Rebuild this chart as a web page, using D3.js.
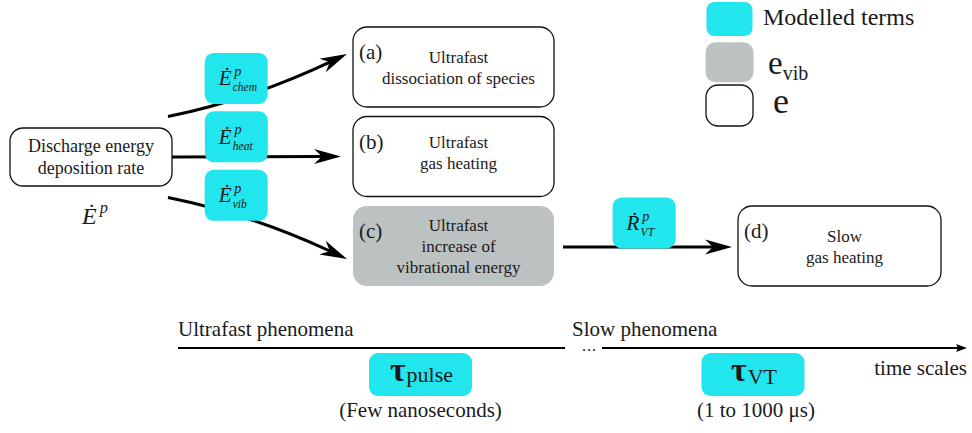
<!DOCTYPE html>
<html><head><meta charset="utf-8">
<script src="https://cdn.jsdelivr.net/npm/d3@7"></script>
<style>
body{margin:0;background:#fff}
svg{display:block}
text{font-family:"Liberation Serif","Times New Roman",serif;fill:#1a1a1a}
</style>
</head><body><svg id="c" width="972" height="433"></svg>
<script>
// ---------------- data ----------------
const sourceLines = ["Discharge energy", "deposition rate"];
const sourceSymbol = ["Ė", "p"];
const processIds = ["(a)", "(b)", "(c)", "(d)"];
const processLines = [
  ["Ultrafast", "dissociation of species"],
  ["Ultrafast", "gas heating"],
  ["Ultrafast", "increase of", "vibrational energy"],
  ["Slow", "gas heating"]
];
const processKinds = ["e", "e", "evib", "e"];
const processRows = [0, 1, 2, 2];
const processCols = [1, 1, 1, 2];
const termBase = ["Ė", "Ė", "Ė", "Ṙ"];
const termSup = ["p", "p", "p", "p"];
const termSub = ["chem", "heat", "vib", "VT"];
const legendLabels = ["Modelled terms", "e", "e"];
const legendSubs = ["", "vib", ""];
const legendKinds = ["term", "evib", "e"];
const phaseLabels = ["Ultrafast phenomena", "Slow phenomena"];
const axisLabel = "time scales";
const tauSymbol = "τ";
const tauSubs = ["pulse", "VT"];
const tauNotes = ["(Few nanoseconds)", "(1 to 1000 μs)"];

// ---------------- styles / layout ----------------
const CYAN = "#22e6ee", GREY = "#bcc1c1";
const fillOf = {term: CYAN, evib: GREY, e: "#fff"};
const strokeOf = {term: "none", evib: "none", e: "#111"};

const svg = d3.select("#c");
const colX = d3.scaleOrdinal().domain([0, 1, 2]).range([91, 453.5, 839.5]);
const colW = [162, 201, 203];
const rowY = d3.scaleLinear().domain([0, 2]).range([67, 246]);
const srcY = rowY(1) + 0.5;

const gArrows = svg.append("g");
const gBoxes = svg.append("g");
const gTerms = svg.append("g");

// source box
const srcW = colW[0], srcH = 58, srcX = colX(0);
gBoxes.append("rect").attr("x", srcX - srcW / 2).attr("y", srcY - srcH / 2)
  .attr("width", srcW).attr("height", srcH).attr("rx", 13)
  .attr("fill", "#fff").attr("stroke", "#111").attr("stroke-width", 1.3);
gBoxes.selectAll("text.src").data(sourceLines).join("text").attr("class", "src")
  .attr("x", srcX).attr("y", (d, i) => srcY + (i - (sourceLines.length - 1) / 2) * 22 + 6)
  .attr("text-anchor", "middle").attr("font-size", 18).text(d => d);

// dotted symbol helper (one text element: base with dot above, superscript, subscript)
function dotted(g, x, y, base, sup, sub, s, subX) {
  const t = g.append("text").attr("x", x).attr("y", y).attr("font-style", "italic");
  t.append("tspan").attr("font-size", s).text(base);
  t.append("tspan").attr("font-size", s * 0.68).attr("x", x + 0.74 * s).attr("dy", -0.45 * s).text(sup);
  if (sub) t.append("tspan").attr("font-size", s * 0.55).attr("x", subX).attr("dy", 0.72 * s).text(sub);
}
dotted(gBoxes, 82, 224, sourceSymbol[0], sourceSymbol[1], null, 24);

// process boxes
const procs = processIds.map((id, i) => {
  const cx = colX(processCols[i]), cy = rowY(processRows[i]), w = colW[processCols[i]], h = 80;
  return {id, i, cx, cy, w, h, x0: cx - w / 2, x1: cx + w / 2, lines: processLines[i], kind: processKinds[i]};
});
const pg = gBoxes.selectAll("g.proc").data(procs).join("g").attr("class", "proc");
pg.append("rect").attr("x", d => d.x0).attr("y", d => d.cy - d.h / 2)
  .attr("width", d => d.w).attr("height", d => d.h).attr("rx", 14)
  .attr("fill", d => fillOf[d.kind]).attr("stroke", d => strokeOf[d.kind]).attr("stroke-width", 1.3);
pg.append("text").attr("x", d => d.x0 + 6).attr("y", d => d.cy - 8)
  .attr("font-size", 21).text(d => d.id);
pg.each(function (d) {
  d3.select(this).selectAll("text.l").data(d.lines).join("text").attr("class", "l")
    .attr("x", d.cx + 5).attr("y", (t, j) => d.cy + (j - (d.lines.length - 1) / 2) * 21 + 6 - (d.i === 1 ? 4 : 0))
    .attr("text-anchor", "middle").attr("font-size", 17).text(t => t);
});

// arrows
function head(g, tip, ang, L, W, N) {
  const pts = [[0, 0], [-L, -W / 2], [-L + N, 0], [-L, W / 2]];
  g.append("path").attr("d", "M" + pts.map(p => p.join(",")).join("L") + "Z")
    .attr("transform", `translate(${tip[0]},${tip[1]}) rotate(${ang * 180 / Math.PI})`)
    .attr("fill", "#000");
}
const arrows = [];
[0, 1, 2].forEach(r => {
  const p = procs[r];
  const side = r - 1;
  const s = [srcX + srcW / 2 - (side ? 4 : 0), srcY + side * 40.5];
  const e = [p.x0 - (side ? 6 : 12), p.cy + side * 13];
  const c = [s[0] + 0.46 * (e[0] - s[0]), s[1] + 0.27 * (e[1] - s[1])];
  arrows.push({s, c, e, t: 0.4, off: -20});
});
arrows.push({s: [procs[2].x1 + 9, rowY(2) + 1], c: null, e: [procs[3].x0 - 6, rowY(2) + 1], t: 0.48, off: -24});

const L = 27, W = 15, N = 8;
arrows.forEach(a => {
  const c = a.c || [(a.s[0] + a.e[0]) / 2, (a.s[1] + a.e[1]) / 2];
  a.c = c;
  const ang = Math.atan2(a.e[1] - c[1], a.e[0] - c[0]);
  const end = [a.e[0] - (L - N) * Math.cos(ang), a.e[1] - (L - N) * Math.sin(ang)];
  const path = d3.path();
  path.moveTo(a.s[0], a.s[1]);
  path.quadraticCurveTo(c[0], c[1], end[0], end[1]);
  gArrows.append("path").attr("d", path.toString()).attr("fill", "none")
    .attr("stroke", "#000").attr("stroke-width", 3);
  head(gArrows, a.e, ang, L, W, N);
});

// modelled terms on arrows
arrows.forEach((a, i) => {
  const t = a.t, u = 1 - t;
  const px = u * u * a.s[0] + 2 * t * u * a.c[0] + t * t * a.e[0];
  const py = u * u * a.s[1] + 2 * t * u * a.c[1] + t * t * a.e[1];
  const cx = px, cy = py + a.off, w = 63, h = 51;
  gTerms.append("rect").attr("x", cx - w / 2).attr("y", cy - h / 2).attr("width", w).attr("height", h)
    .attr("rx", 9).attr("fill", CYAN);
  dotted(gTerms, cx - 17.5, cy + 7, termBase[i], termSup[i], termSub[i], 21, cx - 3.5);
});

// legend
const lg = svg.append("g");
const legY = d3.scalePoint().domain(legendKinds).range([19, 105.5]);
const legSize = {term: [46, 34, 8], evib: [48, 40, 10], e: [47, 41, 12]};
legendKinds.forEach((k, i) => {
  const [w, h, r] = legSize[k];
  lg.append("rect").attr("x", 729.5 - w / 2).attr("y", legY(k) - h / 2).attr("width", w).attr("height", h)
    .attr("rx", r).attr("fill", fillOf[k]).attr("stroke", strokeOf[k]).attr("stroke-width", 1.3);
  const t = lg.append("text");
  if (k === "term") {
    t.attr("x", 763).attr("y", legY(k) + 6).attr("font-size", 24).text(legendLabels[i]);
  } else {
    t.attr("x", k === "evib" ? 768 : 773).attr("y", legY(k) + (k === "evib" ? 12 : 7.5))
      .attr("font-size", k === "evib" ? 33 : 36);
    t.append("tspan").text(legendLabels[i]);
    if (legendSubs[i]) t.append("tspan").attr("font-size", 20).attr("dy", 6).text(legendSubs[i]);
  }
});

// timeline
const tl = svg.append("g");
const tx = d3.scaleLinear().domain([0, 1]).range([178, 967]);
const ty = 348;
tl.append("line").attr("x1", tx(0)).attr("x2", 565).attr("y1", ty).attr("y2", ty)
  .attr("stroke", "#000").attr("stroke-width", 2);
tl.append("text").attr("x", 590).attr("y", ty + 3).attr("text-anchor", "middle")
  .attr("font-size", 12).attr("font-weight", "bold").attr("letter-spacing", 2).text("...");
tl.append("line").attr("x1", 602).attr("x2", tx(1) - 6).attr("y1", ty).attr("y2", ty)
  .attr("stroke", "#000").attr("stroke-width", 2);
head(tl, [tx(1), ty], 0, 11, 8, 2);
tl.selectAll("text.ph").data(phaseLabels).join("text").attr("class", "ph")
  .attr("x", (d, i) => i ? 572 : tx(0)).attr("y", 335.5).attr("font-size", 21).text(d => d);
tl.append("text").attr("x", tx(1)).attr("y", 375).attr("text-anchor", "end")
  .attr("font-size", 21).text(axisLabel);

const tauX = [420.5, 753];
tauSubs.forEach((s, i) => {
  const cx = tauX[i], cy = 374.5, w = 103, h = 43;
  tl.append("rect").attr("x", cx - w / 2).attr("y", cy - h / 2).attr("width", w).attr("height", h)
    .attr("rx", 9).attr("fill", CYAN);
  const t = tl.append("text").attr("x", cx + 1).attr("y", cy + 6).attr("text-anchor", "middle");
  t.append("tspan").attr("font-weight", "bold").attr("font-size", 34).text(tauSymbol);
  t.append("tspan").attr("font-size", 22).attr("dx", 1).attr("dy", i ? 3 : 1).text(s);
  tl.append("text").attr("x", cx + (i ? 3 : 0)).attr("y", 417).attr("text-anchor", "middle")
    .attr("font-size", 21).text(tauNotes[i]);
});
</script>
</body></html>
